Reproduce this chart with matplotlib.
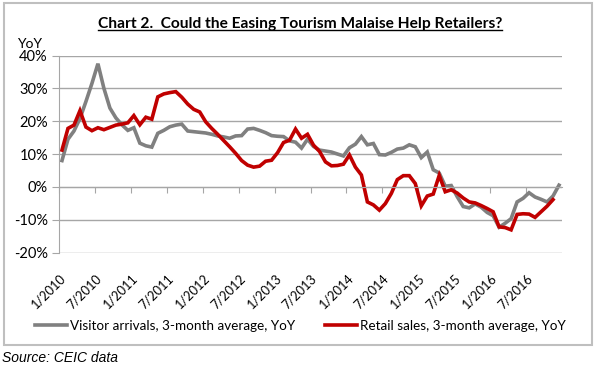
import matplotlib
matplotlib.use('Agg')
import matplotlib.pyplot as plt
from matplotlib.lines import Line2D
from matplotlib.patches import Rectangle
from matplotlib.ticker import FuncFormatter

# monthly data, 1/2010 .. 12/2016 (3-month average, YoY %)
visitor = [8.0, 14.5, 17.0, 20.8, 26.0, 31.5, 37.5, 30.0, 24.0, 21.0, 18.9, 17.2,
           18.0, 13.3, 12.5, 12.1, 16.3, 17.2, 18.3, 18.8, 19.1, 17.0, 16.8, 16.6,
           16.4, 16.0, 15.5, 15.2, 14.8, 15.5, 15.6, 17.6, 17.8, 17.2, 16.5, 15.6,
           15.4, 15.3, 14.0, 13.6, 11.8, 14.5, 12.3, 11.2, 10.9, 10.6, 10.0, 9.4,
           11.9, 13.0, 15.3, 12.8, 13.2, 9.8, 9.7, 10.5, 11.5, 11.8, 12.8, 12.2,
           8.9, 10.6, 5.2, 4.2, 0.2, 0.4, -3.0, -6.0, -6.4, -5.2, -6.2, -7.8,
           -8.8, -12.3, -11.1, -9.7, -4.6, -3.5, -1.8, -3.1, -3.8, -4.6, -2.8, 0.5]

retail = [11.2, 17.8, 18.8, 23.2, 18.2, 17.1, 18.0, 17.4, 18.1, 18.8, 19.1, 19.5,
          21.7, 18.9, 21.2, 20.6, 27.4, 28.3, 28.7, 29.0, 27.3, 25.2, 23.6, 22.8,
          19.8, 17.8, 16.0, 14.1, 12.2, 10.2, 8.0, 6.6, 6.0, 6.3, 7.8, 8.1,
          10.4, 13.5, 14.2, 17.6, 14.8, 16.0, 12.7, 10.8, 7.6, 6.4, 6.5, 6.9,
          9.7, 6.0, 3.6, -4.6, -5.5, -7.1, -5.1, -2.0, 2.2, 3.4, 3.4, 1.0,
          -5.8, -2.8, -2.2, 3.5, -1.5, -0.9, -1.9, -3.4, -4.6, -4.9, -5.7, -6.6,
          -7.6, -12.2, -12.4, -13.1, -8.4, -8.2, -8.3, -9.3, -7.6, -5.9, -3.9]

tick_labels = ['1/2010', '7/2010', '1/2011', '7/2011', '1/2012', '7/2012', '1/2013',
               '7/2013', '1/2014', '7/2014', '1/2015', '7/2015', '1/2016', '7/2016']

GREY = '#808080'
RED = '#C00000'
GRID = '#A6A6A6'

plt.rcParams['font.family'] = ['Lato', 'DejaVu Sans']

W, H = 600, 373
fig = plt.figure(figsize=(W / 100, H / 100), dpi=100)

# plot area in pixels: x 59..562, y 55.5..252.5
ax = fig.add_axes([59 / W, 1 - 252.5 / H, (562 - 59) / W, (252.5 - 55.5) / H])

ax.plot(range(len(visitor)), visitor, color=GREY, lw=2.6, solid_joinstyle='miter')
ax.plot(range(len(retail)), retail, color=RED, lw=2.6, solid_joinstyle='miter')

ax.set_xlim(-0.5, 83.5)
ax.set_ylim(-20, 40)
ax.set_yticks(range(-20, 41, 10))
ax.yaxis.set_major_formatter(FuncFormatter(lambda v, p: f'{v:.0f}%'))
ax.yaxis.grid(True, color=GRID, lw=1.0)
ax.set_axisbelow(True)

tick_pos = [-0.5 + 6 * k for k in range(len(tick_labels))]
ax.set_xticks(tick_pos)
ax.tick_params(axis='x', direction='out', length=4, color=GRID, labelbottom=False)
ax.tick_params(axis='y', direction='out', length=5, color=GRID, labelsize=10.5, pad=3)

for s in ['top', 'right']:
    ax.spines[s].set_visible(False)
ax.spines['bottom'].set_position(('data', 0))
ax.spines['bottom'].set_color(GRID)
ax.spines['left'].set_color(GRID)

# date labels below the plot area
sec = ax.secondary_xaxis('bottom')
sec.set_xticks(tick_pos)
sec.set_xticklabels(tick_labels, rotation=45, ha='right', rotation_mode='anchor',
                    fontsize=9.2)
sec.tick_params(length=0, pad=14)
sec.spines['bottom'].set_visible(False)

# title with underline
title = fig.text(0.5, 1 - 24 / H, 'Chart 2.  Could the Easing Tourism Malaise Help Retailers?',
                 ha='center', va='center', fontsize=11.2, fontweight='bold')
fig.text(17 / W, 1 - 44 / H, 'YoY', fontsize=10, va='center')

legend_handles = [Line2D([], [], color=GREY, lw=2.6),
                  Line2D([], [], color=RED, lw=2.6)]
fig.legend(legend_handles,
           ['Visitor arrivals, 3-month average, YoY', 'Retail sales, 3-month average, YoY'],
           loc='center', bbox_to_anchor=(0.5, 1 - 326 / H), ncol=2, frameon=False,
           fontsize=9.7, handlelength=2.4, handletextpad=0.2, columnspacing=2.2)

# outer chart border
fig.add_artist(Rectangle((4 / W, 1 - 345 / H), (592 - 4) / W, (345 - 3) / H,
                         transform=fig.transFigure, fill=False, edgecolor='#BFBFBF', lw=1.5))

fig.text(2 / W, 1 - 358 / H, 'Source: CEIC data', fontsize=10, style='italic',
         family='Liberation Sans', va='center')

fig.canvas.draw()
bb = title.get_window_extent().transformed(fig.transFigure.inverted())
fig.add_artist(Line2D([bb.x0, bb.x1], [bb.y0 + 0.004, bb.y0 + 0.004],
                      transform=fig.transFigure, color='black', lw=1.0))

fig.savefig('out.png', dpi=100)
